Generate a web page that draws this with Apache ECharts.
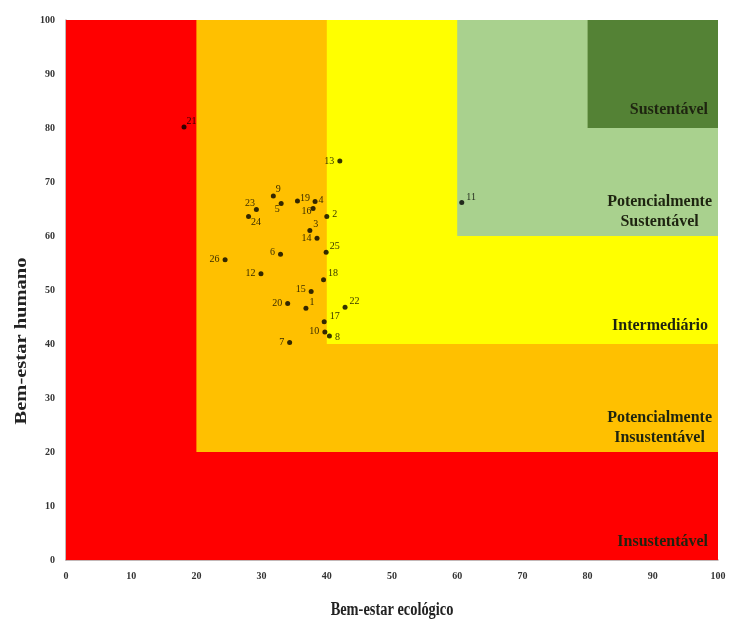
<!DOCTYPE html>
<html>
<head>
<meta charset="utf-8">
<script src="https://cdn.jsdelivr.net/npm/echarts@6/dist/echarts.min.js"></script>
<style>
  html, body { margin: 0; padding: 0; background: #fff; }
  #chart { width: 732px; height: 622px; }
</style>
</head>
<body>
<div id="chart"></div>
<script>
// pontos: numero, bem-estar ecologico (x), bem-estar humano (y)
var ids  = ['1', '2', '3', '4', '5', '6', '7', '8', '9', '10', '11', '12', '13',
            '14', '15', '16', '17', '18', '19', '20', '21', '22', '23', '24', '25', '26'];
var ecol = [36.8, 40.0, 37.4, 38.2, 33.0, 32.9, 34.3, 40.4, 31.8, 39.7, 60.7, 29.9, 42.0,
            38.5, 37.6, 37.9, 39.6, 39.5, 35.5, 34.0, 18.1, 42.8, 29.2, 28.0, 39.9, 24.4];
var hum  = [46.6, 63.6, 61.0, 66.4, 66.0, 56.6, 40.3, 41.5, 67.4, 42.2, 66.2, 53.0, 73.9,
            59.6, 49.7, 65.1, 44.1, 51.9, 66.5, 47.5, 80.2, 46.8, 64.9, 63.6, 57.0, 55.6];

// faixas de classificacao (limite inferior em x e y, ate 100)
var zoneNames = ['Insustentável', 'Potencialmente\nInsustentável', 'Intermediário',
                 'Potencialmente\nSustentável', 'Sustentável'];
var zoneStart = [0, 20, 40, 60, 80];
var zoneColors = ['#ff0000', '#ffc000', '#ffff00', '#a9d18e', '#548235'];

var axisTicks = [0, 10, 20, 30, 40, 50, 60, 70, 80, 90, 100];

// posicao do rotulo de cada ponto
var labelSide = {
  '1': ['right', [-2, -6]], '2': ['right', [0, -2]], '3': ['right', [-2, -6]],
  '4': ['right', [-2, -1]], '5': ['left', [4, 6]], '6': ['left', [0, -2]],
  '7': ['left', [0, 0]], '8': ['right', [0, 1]], '9': ['right', [-3, -7]],
  '10': ['left', [0, -1]], '11': ['right', [-1, -5]], '12': ['left', [0, 0]],
  '13': ['left', [0, 0]], '14': ['left', [0, 0]], '15': ['left', [0, -2]],
  '16': ['left', [4, 3]], '17': ['right', [0, -5]], '18': ['right', [-1, -6]],
  '19': ['right', [-3, -3]], '20': ['left', [0, 0]], '21': ['right', [-3, -6]],
  '22': ['right', [-1, -6]], '23': ['left', [4, -6]], '24': ['right', [-3, 6]],
  '25': ['right', [-2, -6]], '26': ['left', [0, 0]]
};

var serif = '"Liberation Serif", "DejaVu Serif", serif';

var points = [];
for (var i = 0; i < ids.length; i++) {
  var side = labelSide[ids[i]];
  points.push({
    value: [ecol[i], hum[i]],
    name: ids[i],
    label: { position: side[0], offset: side[1] }
  });
}

var areas = [];
for (var k = 0; k < zoneNames.length; k++) {
  var twoLines = zoneNames[k].indexOf('\n') >= 0;
  areas.push([
    {
      name: zoneNames[k],
      xAxis: zoneStart[k],
      yAxis: zoneStart[k],
      itemStyle: { color: zoneColors[k] },
      label: twoLines ? { distance: 6, offset: [0, 2] } : { distance: 10, offset: [0, 2] }
    },
    { xAxis: 100, yAxis: 100 }
  ]);
}

var chart = echarts.init(document.getElementById('chart'));
var option = {
  animation: false,
  grid: { left: 66, right: 14, top: 20, bottom: 62 },
  xAxis: {
    type: 'value', min: 0, max: 100, interval: 10,
    axisLine: { show: true, lineStyle: { color: '#b0a0a0', width: 1.5 } },
    axisTick: { show: false },
    splitLine: { show: false },
    axisLabel: {
      margin: 11, fontFamily: serif, fontWeight: 'bold', fontSize: 10, color: '#333',
      formatter: function (v) { return axisTicks.indexOf(v) >= 0 ? String(v) : ''; }
    }
  },
  yAxis: {
    type: 'value', min: 0, max: 100, interval: 10,
    axisLine: { show: true, lineStyle: { color: '#b0a0a0', width: 1.5 } },
    axisTick: { show: false },
    splitLine: { show: false },
    axisLabel: {
      margin: 11, fontFamily: serif, fontWeight: 'bold', fontSize: 10, color: '#333',
      formatter: function (v) { return axisTicks.indexOf(v) >= 0 ? String(v) : ''; }
    }
  },
  graphic: [{
    type: 'text',
    x: 22, y: 341,
    rotation: Math.PI / 2,
    scaleX: 1.08, scaleY: 0.85,
    style: {
      text: 'Bem-estar humano',
      fontFamily: serif, fontWeight: 'bold', fontSize: 19, fill: '#222',
      align: 'center', verticalAlign: 'middle'
    }
  }, {
    type: 'text',
    x: 392, y: 610,
    scaleX: 0.8,
    style: {
      text: 'Bem-estar ecológico',
      fontFamily: serif, fontWeight: 'bold', fontSize: 18, fill: '#222',
      align: 'center', verticalAlign: 'middle'
    }
  }],
  series: [
    {
      type: 'scatter',
      data: [],
      z: 1,
      markArea: {
        silent: true,
        label: {
          show: true,
          position: 'insideBottomRight',
          distance: 10,
          fontFamily: serif, fontWeight: 'bold', fontSize: 16, color: '#1e2410',
          lineHeight: 20,
          formatter: function (p) {
            return p.name.split('\n').map(function (s) { return '{c|' + s + '}'; }).join('\n');
          },
          rich: { c: { align: 'center', fontFamily: serif, fontWeight: 'bold', fontSize: 16, color: '#1e2410', lineHeight: 20 } }
        },
        data: areas
      }
    },
    {
      type: 'scatter',
      z: 5,
      symbolSize: 5,
      itemStyle: { color: '#000' },
      label: {
        show: true,
        formatter: '{b}',
        distance: 3,
        fontFamily: serif, fontSize: 10, color: '#000'
      },
      data: points
    }
  ]
};
chart.setOption(option);
</script>
</body>
</html>
